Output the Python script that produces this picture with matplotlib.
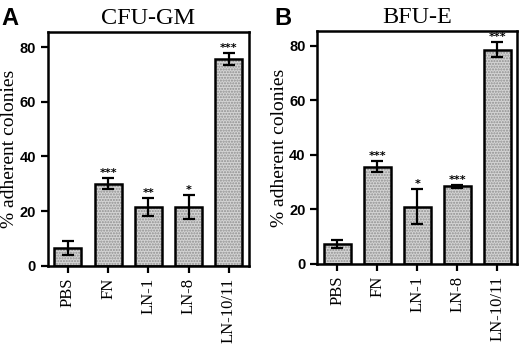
import matplotlib.pyplot as plt

# values
groups = ['PBS', 'FN', 'LN-1', 'LN-8', 'LN-10/11']
gm_mean = [6.5, 30.0, 21.5, 21.5, 75.5]
gm_err = [2.6, 2.0, 3.3, 4.3, 2.2]
gm_stars = ['', '***', '**', '*', '***']
bfu_mean = [7.3, 35.7, 21.0, 28.4, 78.6]
bfu_err = [1.5, 2.0, 6.3, 0.5, 2.7]
bfu_stars = ['', '***', '*', '***', '***']

serif = 'Liberation Serif'
sans = 'Liberation Sans'

fig = plt.figure(figsize=(5.2, 3.44), dpi=100)
axA = fig.add_axes([0.092, 0.227, 0.387, 0.680])
axB = fig.add_axes([0.610, 0.233, 0.385, 0.677])


def panel(ax, means, errs, stars, title, letter, lx):
    x = range(len(groups))
    # stippled fill, then black outline
    ax.bar(x, means, width=0.67, color='#d4d4d4', hatch='......',
           edgecolor='#8f8f8f', linewidth=0)
    ax.bar(x, means, width=0.67, fill=False, edgecolor='black', linewidth=1.8)
    ax.errorbar(x, means, yerr=errs, fmt='none', ecolor='black',
                elinewidth=1.6, capsize=4, capthick=1.6)
    for i, s in enumerate(stars):
        if s:
            ax.text(i, means[i] + errs[i] + 0.2, s, ha='center', va='bottom',
                    fontsize=8, fontweight='bold')
    ax.set_xlim(-0.5, 4.5)
    ax.set_ylim(0, 85.5)
    ax.set_yticks([0, 20, 40, 60, 80])
    ax.set_xticks(list(x))
    ax.set_xticklabels(groups, rotation=90, fontfamily=serif, fontsize=12)
    for lab in ax.get_yticklabels():
        lab.set_fontfamily(sans)
        lab.set_fontweight('bold')
        lab.set_fontsize(10.5)
    ax.tick_params(direction='out', length=5, width=1.6, top=False, right=False)
    for sp in ax.spines.values():
        sp.set_linewidth(1.8)
    ax.set_ylabel('% adherent colonies', fontfamily=serif, fontsize=14, va='center')
    ax.yaxis.set_label_coords(-0.19, 0.5)
    ax.set_title(title, fontfamily=serif, fontsize=17.5, pad=6)
    fig.text(lx, 0.98, letter, fontfamily=sans, fontweight='bold',
             fontsize=17, va='top', ha='left')


panel(axA, gm_mean, gm_err, gm_stars, 'CFU-GM', 'A', 0.003)
panel(axB, bfu_mean, bfu_err, bfu_stars, 'BFU-E', 'B', 0.527)

fig.savefig('out.png', dpi=100)
